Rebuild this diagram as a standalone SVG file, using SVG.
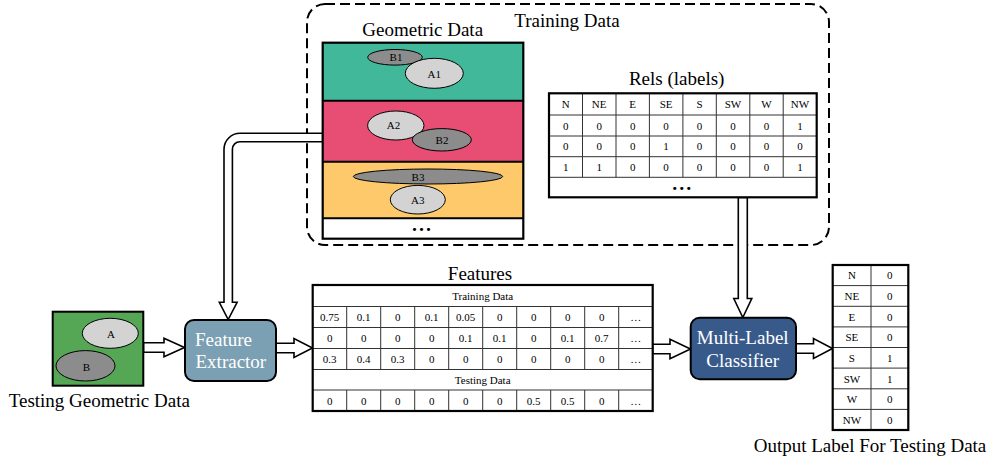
<svg xmlns="http://www.w3.org/2000/svg" width="989" height="461" viewBox="0 0 989 461">
<style>
text{font-family:"Liberation Serif","Times New Roman",serif;fill:#000}
.t19{font-size:19px;text-anchor:middle}
.sm{font-size:11px;text-anchor:middle;dominant-baseline:central}
.xs{font-size:11px;text-anchor:middle;dominant-baseline:central}
.el{font-size:11px;text-anchor:middle;dominant-baseline:central}
.ea{fill:#D3D3D3;stroke:#000;stroke-width:1}
.eb{fill:#8C8C8C;stroke:#000;stroke-width:1}
.grid{stroke:#333;stroke-width:1;fill:none}
.frame{fill:none;stroke:#000;stroke-width:2.2}
.arr{fill:#fff;stroke:#000;stroke-width:1.6;stroke-linejoin:miter}
.wt{fill:#fff;font-size:19px}
.dots{font-size:11px;text-anchor:middle;dominant-baseline:central;font-family:"DejaVu Sans",sans-serif;letter-spacing:0.5px}
</style>

<g id="training-data-frame">
<rect x="307" y="4" width="522" height="241" rx="18" ry="18" fill="none" stroke="#000" stroke-width="2" stroke-dasharray="10 5"/>
<text class="t19" x="567" y="27">Training Data</text>
</g>

<g id="connectors">
<path class="arr" d="M322.7,133.3 L240,133.3 A16,16 0 0 0 224,149.3 L224,302.3 L219.3,302.3 L228.2,319.5 L237.1,302.3 L232.4,302.3 L232.4,149.3 A7.6,7.6 0 0 1 240,141.7 L322.7,141.7 Z"/>
<polygon class="arr" points="143.5,342.8 164,342.8 164,338.2 184.5,347.5 164,356.8 164,352.2 143.5,352.2"/>
<polygon class="arr" points="276,343.3 294,343.3 294,338.5 312.5,348 294,357.5 294,352.7 276,352.7"/>
<polygon class="arr" points="652.5,344.3 670,344.3 670,339.3 690.5,349 670,358.7 670,353.7 652.5,353.7"/>
<polygon class="arr" points="796,343.8 813.5,343.8 813.5,338.5 832.5,348.5 813.5,358.5 813.5,353.2 796,353.2"/>
<polygon class="arr" points="738.3,197.5 747.3,197.5 747.3,298.5 751.8,298.5 742.8,317.5 733.8,298.5 738.3,298.5"/>
</g>

<g id="geometric-data">
<text class="t19" x="422.7" y="36">Geometric Data</text>
<rect x="322.7" y="42.7" width="200.6" height="58" fill="#42B89B"/>
<rect x="322.7" y="100.7" width="200.6" height="61" fill="#E84D73"/>
<rect x="322.7" y="161.7" width="200.6" height="56.6" fill="#FDC96B"/>
<rect x="322.7" y="218.3" width="200.6" height="20.4" fill="#fff"/>
<line x1="322.7" y1="100.7" x2="523.3" y2="100.7" stroke="#000" stroke-width="2"/>
<line x1="322.7" y1="161.7" x2="523.3" y2="161.7" stroke="#000" stroke-width="2"/>
<line x1="322.7" y1="218.3" x2="523.3" y2="218.3" stroke="#000" stroke-width="2"/>
<rect class="frame" x="322.7" y="42.7" width="200.6" height="196"/>
<ellipse class="eb" cx="395" cy="57.3" rx="27.3" ry="7.8"/>
<text class="el" x="396" y="57.3">B1</text>
<ellipse class="ea" cx="434.3" cy="73.3" rx="29" ry="15"/>
<text class="el" x="434.3" y="74">A1</text>
<ellipse class="ea" cx="395.8" cy="125.5" rx="28.2" ry="14.5"/>
<text class="el" x="393.5" y="125">A2</text>
<ellipse class="eb" cx="441.8" cy="139.8" rx="29.5" ry="11.2"/>
<text class="el" x="442" y="139.5">B2</text>
<ellipse class="eb" cx="428" cy="176.5" rx="74.7" ry="7.5"/>
<text class="el" x="418" y="176.5">B3</text>
<ellipse class="ea" cx="417.8" cy="199.7" rx="27.5" ry="14.3"/>
<text class="el" x="417.8" y="200">A3</text>
<text class="dots" x="421.7" y="229.5">•••</text>
</g>

<g id="rels-table">
<text class="t19" x="676.7" y="85">Rels (labels)</text>
<rect x="549" y="93.3" width="267.7" height="104" fill="#fff"/>
<g class="grid">
<line x1="549" y1="115" x2="816.7" y2="115"/>
<line x1="549" y1="136" x2="816.7" y2="136"/>
<line x1="549" y1="156.7" x2="816.7" y2="156.7"/>
<line x1="549" y1="177.3" x2="816.7" y2="177.3"/>
<path d="M582.5,93.3V177.3M616,93.3V177.3M649.4,93.3V177.3M682.9,93.3V177.3M716.3,93.3V177.3M749.8,93.3V177.3M783.2,93.3V177.3"/>
</g>
<rect class="frame" x="549" y="93.3" width="267.7" height="104"/>
<g>
<text class="sm" x="565.7" y="104.2">N</text><text class="sm" x="599.2" y="104.2">NE</text><text class="sm" x="632.7" y="104.2">E</text><text class="sm" x="666.1" y="104.2">SE</text><text class="sm" x="699.6" y="104.2">S</text><text class="sm" x="733" y="104.2">SW</text><text class="sm" x="766.5" y="104.2">W</text><text class="sm" x="800" y="104.2">NW</text>
<text class="sm" x="565.7" y="125.5">0</text><text class="sm" x="599.2" y="125.5">0</text><text class="sm" x="632.7" y="125.5">0</text><text class="sm" x="666.1" y="125.5">0</text><text class="sm" x="699.6" y="125.5">0</text><text class="sm" x="733" y="125.5">0</text><text class="sm" x="766.5" y="125.5">0</text><text class="sm" x="800" y="125.5">1</text>
<text class="sm" x="565.7" y="146.4">0</text><text class="sm" x="599.2" y="146.4">0</text><text class="sm" x="632.7" y="146.4">0</text><text class="sm" x="666.1" y="146.4">1</text><text class="sm" x="699.6" y="146.4">0</text><text class="sm" x="733" y="146.4">0</text><text class="sm" x="766.5" y="146.4">0</text><text class="sm" x="800" y="146.4">0</text>
<text class="sm" x="565.7" y="167">1</text><text class="sm" x="599.2" y="167">1</text><text class="sm" x="632.7" y="167">0</text><text class="sm" x="666.1" y="167">0</text><text class="sm" x="699.6" y="167">0</text><text class="sm" x="733" y="167">0</text><text class="sm" x="766.5" y="167">0</text><text class="sm" x="800" y="167">1</text>
</g>
<text class="dots" x="682" y="188">•••</text>
</g>

<g id="testing-geometric-data">
<rect x="52.7" y="311.7" width="90.6" height="74" fill="#55A655" stroke="#000" stroke-width="2"/>
<ellipse class="ea" cx="110.3" cy="333.3" rx="28" ry="15"/>
<text class="el" x="111" y="334">A</text>
<ellipse class="eb" cx="85.5" cy="365.8" rx="29.5" ry="15.2"/>
<text class="el" x="86.5" y="366.5">B</text>
<text class="t19" x="99.3" y="407">Testing Geometric Data</text>
</g>

<g id="feature-extractor">
<rect x="185" y="320" width="91" height="61" rx="9" ry="9" fill="#7B9FB3" stroke="#000" stroke-width="2"/>
<text class="wt" x="195" y="345.7">Feature</text>
<text class="wt" x="195.5" y="368.3">Extractor</text>
</g>

<g id="features-table">
<text class="t19" x="480" y="280">Features</text>
<rect x="312.7" y="285" width="340" height="126" fill="#fff"/>
<g class="grid">
<line x1="312.7" y1="306.5" x2="652.7" y2="306.5"/>
<line x1="312.7" y1="327.5" x2="652.7" y2="327.5"/>
<line x1="312.7" y1="348.5" x2="652.7" y2="348.5"/>
<line x1="312.7" y1="369.5" x2="652.7" y2="369.5"/>
<line x1="312.7" y1="390" x2="652.7" y2="390"/>
<path d="M346.7,306.5V369.5M380.7,306.5V369.5M414.7,306.5V369.5M448.7,306.5V369.5M482.7,306.5V369.5M516.7,306.5V369.5M550.7,306.5V369.5M584.7,306.5V369.5M618.7,306.5V369.5"/>
<path d="M346.7,390V411M380.7,390V411M414.7,390V411M448.7,390V411M482.7,390V411M516.7,390V411M550.7,390V411M584.7,390V411M618.7,390V411"/>
</g>
<rect class="frame" x="312.7" y="285" width="340" height="126"/>
<text class="xs" x="482.7" y="296">Training Data</text>
<text class="xs" x="482.7" y="380">Testing Data</text>
<text class="xs" x="329.7" y="317">0.75</text><text class="xs" x="363.7" y="317">0.1</text><text class="xs" x="397.7" y="317">0</text><text class="xs" x="431.7" y="317">0.1</text><text class="xs" x="465.7" y="317">0.05</text><text class="xs" x="499.7" y="317">0</text><text class="xs" x="533.7" y="317">0</text><text class="xs" x="567.7" y="317">0</text><text class="xs" x="601.7" y="317">0</text><text class="xs" x="635.7" y="317">…</text>
<text class="xs" x="329.7" y="338">0</text><text class="xs" x="363.7" y="338">0</text><text class="xs" x="397.7" y="338">0</text><text class="xs" x="431.7" y="338">0</text><text class="xs" x="465.7" y="338">0.1</text><text class="xs" x="499.7" y="338">0.1</text><text class="xs" x="533.7" y="338">0</text><text class="xs" x="567.7" y="338">0.1</text><text class="xs" x="601.7" y="338">0.7</text><text class="xs" x="635.7" y="338">…</text>
<text class="xs" x="329.7" y="359">0.3</text><text class="xs" x="363.7" y="359">0.4</text><text class="xs" x="397.7" y="359">0.3</text><text class="xs" x="431.7" y="359">0</text><text class="xs" x="465.7" y="359">0</text><text class="xs" x="499.7" y="359">0</text><text class="xs" x="533.7" y="359">0</text><text class="xs" x="567.7" y="359">0</text><text class="xs" x="601.7" y="359">0</text><text class="xs" x="635.7" y="359">…</text>
<text class="xs" x="329.7" y="400.5">0</text><text class="xs" x="363.7" y="400.5">0</text><text class="xs" x="397.7" y="400.5">0</text><text class="xs" x="431.7" y="400.5">0</text><text class="xs" x="465.7" y="400.5">0</text><text class="xs" x="499.7" y="400.5">0</text><text class="xs" x="533.7" y="400.5">0.5</text><text class="xs" x="567.7" y="400.5">0.5</text><text class="xs" x="601.7" y="400.5">0</text><text class="xs" x="635.7" y="400.5">…</text>
</g>

<g id="multi-label-classifier">
<rect x="690.7" y="317.7" width="105.3" height="61.6" rx="9" ry="9" fill="#385A8B" stroke="#000" stroke-width="2"/>
<text class="wt" x="742.7" y="344.3" text-anchor="middle">Multi-Label</text>
<text class="wt" x="742.7" y="366.7" text-anchor="middle">Classifier</text>
</g>

<g id="output-table">
<rect x="832.7" y="265" width="75.6" height="165" fill="#fff"/>
<g class="grid">
<path d="M832.7,285.6H908.3M832.7,306.3H908.3M832.7,326.9H908.3M832.7,347.5H908.3M832.7,368.1H908.3M832.7,388.8H908.3M832.7,409.4H908.3M871,265V430"/>
</g>
<rect class="frame" x="832.7" y="265" width="75.6" height="165" stroke-width="2"/>
<text class="sm" x="851.9" y="275.3">N</text><text class="sm" x="889.7" y="275.3">0</text>
<text class="sm" x="851.9" y="296">NE</text><text class="sm" x="889.7" y="296">0</text>
<text class="sm" x="851.9" y="316.6">E</text><text class="sm" x="889.7" y="316.6">0</text>
<text class="sm" x="851.9" y="337.2">SE</text><text class="sm" x="889.7" y="337.2">0</text>
<text class="sm" x="851.9" y="357.8">S</text><text class="sm" x="889.7" y="357.8">1</text>
<text class="sm" x="851.9" y="378.5">SW</text><text class="sm" x="889.7" y="378.5">1</text>
<text class="sm" x="851.9" y="399.1">W</text><text class="sm" x="889.7" y="399.1">0</text>
<text class="sm" x="851.9" y="419.7">NW</text><text class="sm" x="889.7" y="419.7">0</text>
<text class="t19" x="870" y="452">Output Label For Testing Data</text>
</g>
</svg>
